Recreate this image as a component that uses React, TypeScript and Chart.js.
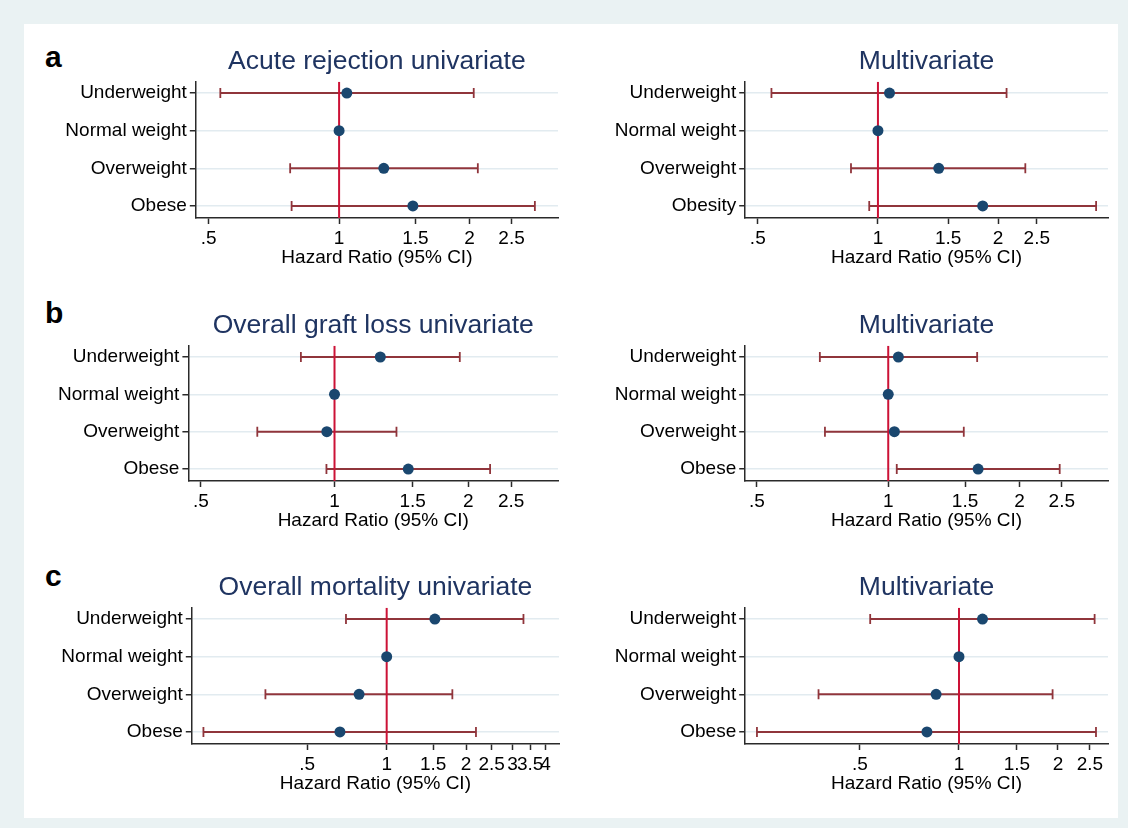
import React, { useEffect, useRef } from "react";
import { Chart, registerables } from "chart.js";

Chart.register(...registerables);

// ---------- data ----------
const categories = ["Underweight", "Normal weight", "Overweight", "Obese"];
const categoriesObesity = ["Underweight", "Normal weight", "Overweight", "Obesity"];

const acuteUniHR = [1.042, 1, 1.268, 1.48];
const acuteUniLow = [0.532, null, 0.771, 0.777];
const acuteUniHigh = [2.045, null, 2.09, 2.83];

const acuteMultiHR = [1.069, 1, 1.42, 1.83];
const acuteMultiLow = [0.541, null, 0.856, 0.951];
const acuteMultiHigh = [2.1, null, 2.34, 3.52];

const graftUniHR = [1.268, 1, 0.961, 1.466];
const graftUniLow = [0.84, null, 0.67, 0.959];
const graftUniHigh = [1.915, null, 1.379, 2.241];

const graftMultiHR = [1.055, 1, 1.033, 1.607];
const graftMultiLow = [0.697, null, 0.716, 1.046];
const graftMultiHigh = [1.599, null, 1.49, 2.472];

const mortUniHR = [1.523, 1, 0.786, 0.665];
const mortUniLow = [0.701, null, 0.347, 0.202];
const mortUniHigh = [3.3, null, 1.774, 2.18];

const mortMultiHR = [1.179, 1, 0.852, 0.799];
const mortMultiLow = [0.537, null, 0.374, 0.243];
const mortMultiHigh = [2.585, null, 1.926, 2.61];

const xTicks = [0.5, 1, 1.5, 2, 2.5];
const xTicksWide = [0.5, 1, 1.5, 2, 2.5, 3, 3.5, 4];

const xRangeAcuteUni = [0.467, 3.2];
const xRangeAcuteMulti = [0.465, 3.77];
const xRangeGraftUni = [0.4687, 3.187];
const xRangeGraftMulti = [0.47, 3.19];
const xRangeMortUni = [0.1825, 4.5];
const xRangeMortMulti = [0.2238, 2.839];

const yRange = [0.7, 4.32];
const referenceHR = 1;

const titles = [
  "Acute rejection univariate",
  "Multivariate",
  "Overall graft loss univariate",
  "Multivariate",
  "Overall mortality univariate",
  "Multivariate",
];
const axisTitle = "Hazard Ratio (95% CI)";
const panelLetters = ["a", "b", "c"];

// ---------- styles ----------
const FONT = "'Liberation Sans', Arial, Helvetica, sans-serif";
const OUTER_BG = "#EAF2F3";
const TITLE_COLOR = "#1f3461";
const AXIS_COLOR = "#2a2a2a";
const GRID_COLOR = "#E2EBF0";
const CI_COLOR = "#90353B";
const MARKER_COLOR = "#1A476F";
const REF_COLOR = "#CC1236";

const fmtTick = (v: number) => String(v).replace(/^0\./, ".");

type PanelProps = {
  title: string;
  cats: string[];
  hr: number[];
  low: (number | null)[];
  high: (number | null)[];
  ticks: number[];
  xRange: number[];
  left: number;
  width: number;
  plotLeft: number;
  plotRight: number;
  plotTop: number;
  plotBottom: number;
};

const TITLE_BOX = 40;
const XAXIS_H = 51;

function ForestPanel(p: PanelProps) {
  const ref = useRef<HTMLCanvasElement | null>(null);
  const top = p.plotTop - TITLE_BOX;
  const height = TITLE_BOX + (p.plotBottom - p.plotTop) + XAXIS_H;

  useEffect(() => {
    if (!ref.current) return;
    const ciSets = p.cats
      .map((_, i) => i)
      .filter((i) => p.low[i] != null && p.high[i] != null)
      .map((i) => ({
        type: "scatter" as const,
        data: [
          { x: p.low[i] as number, y: i + 1 },
          { x: p.high[i] as number, y: i + 1 },
        ],
        showLine: true,
        borderColor: CI_COLOR,
        borderWidth: 2,
        pointStyle: "line" as const,
        pointRotation: 90,
        pointRadius: 5,
        pointBorderColor: CI_COLOR,
        pointBorderWidth: 1.8,
        order: 3,
      }));

    const chart = new Chart(ref.current, {
      type: "scatter",
      data: {
        datasets: [
          ...ciSets,
          {
            data: [
              { x: referenceHR, y: yRange[0] },
              { x: referenceHR, y: yRange[1] },
            ],
            showLine: true,
            borderColor: REF_COLOR,
            borderWidth: 2,
            pointRadius: 0,
            order: 2,
          },
          {
            data: p.hr.map((v, i) => ({ x: v, y: i + 1 })),
            pointStyle: "circle",
            pointRadius: 5.5,
            pointBackgroundColor: MARKER_COLOR,
            pointBorderColor: MARKER_COLOR,
            pointBorderWidth: 0,
            order: 1,
          },
        ],
      },
      options: {
        animation: false,
        responsive: false,
        maintainAspectRatio: false,
        events: [],
        layout: { padding: { left: 0, right: p.left + p.width - p.plotRight, top: 0, bottom: 0 } },
        plugins: {
          legend: { display: false },
          tooltip: { enabled: false },
          title: {
            display: true,
            text: p.title,
            fullSize: false,
            color: TITLE_COLOR,
            font: { family: FONT, size: 26.5, weight: "normal", lineHeight: 1.2 },
            padding: { top: 4, bottom: 4 },
          },
        },
        scales: {
          x: {
            type: "logarithmic",
            min: p.xRange[0],
            max: p.xRange[1],
            bounds: "data",
            afterBuildTicks: (s: any) => {
              s.ticks = p.ticks.map((v) => ({ value: v }));
            },
            afterFit: (s: any) => {
              s.height = XAXIS_H;
            },
            ticks: {
              autoSkip: false,
              maxRotation: 0,
              minRotation: 0,
              padding: 3,
              color: "#000",
              font: { family: FONT, size: 19 },
              callback: (v: any) => fmtTick(Number(v)),
            },
            grid: {
              drawOnChartArea: false,
              drawTicks: true,
              tickLength: 6,
              tickColor: AXIS_COLOR,
              tickWidth: 1.5,
            },
            border: { display: true, color: AXIS_COLOR, width: 1.5 },
            title: {
              display: true,
              text: axisTitle,
              color: "#000",
              font: { family: FONT, size: 19 },
              padding: { top: 0, bottom: 0 },
            },
          },
          y: {
            type: "linear",
            reverse: true,
            min: yRange[0],
            max: yRange[1],
            bounds: "data",
            afterBuildTicks: (s: any) => {
              s.ticks = p.cats.map((_, i) => ({ value: i + 1 }));
            },
            afterFit: (s: any) => {
              s.width = p.plotLeft - p.left;
            },
            ticks: {
              autoSkip: false,
              padding: 3,
              color: "#000",
              font: { family: FONT, size: 19 },
              callback: (v: any) => p.cats[Math.round(Number(v)) - 1] ?? "",
            },
            grid: {
              color: GRID_COLOR,
              lineWidth: 1.5,
              drawTicks: true,
              tickLength: 6,
              tickColor: AXIS_COLOR,
              tickWidth: 1.5,
            },
            border: { display: true, color: AXIS_COLOR, width: 1.5 },
          },
        },
      } as any,
    });
    return () => chart.destroy();
  }, []);

  return (
    <canvas
      ref={ref}
      width={p.width}
      height={height}
      style={{ position: "absolute", left: p.left, top, width: p.width, height }}
    />
  );
}

const panels: PanelProps[] = [
  { title: titles[0], cats: categories, hr: acuteUniHR, low: acuteUniLow, high: acuteUniHigh, ticks: xTicks, xRange: xRangeAcuteUni, left: 25, width: 546, plotLeft: 195.8, plotRight: 558, plotTop: 82, plotBottom: 218 },
  { title: titles[1], cats: categoriesObesity, hr: acuteMultiHR, low: acuteMultiLow, high: acuteMultiHigh, ticks: xTicks, xRange: xRangeAcuteMulti, left: 572, width: 546, plotLeft: 745.2, plotRight: 1108, plotTop: 82, plotBottom: 218 },
  { title: titles[2], cats: categories, hr: graftUniHR, low: graftUniLow, high: graftUniHigh, ticks: xTicks, xRange: xRangeGraftUni, left: 25, width: 546, plotLeft: 188.4, plotRight: 558, plotTop: 346, plotBottom: 481 },
  { title: titles[3], cats: categories, hr: graftMultiHR, low: graftMultiLow, high: graftMultiHigh, ticks: xTicks, xRange: xRangeGraftMulti, left: 572, width: 546, plotLeft: 745.2, plotRight: 1108, plotTop: 346, plotBottom: 481 },
  { title: titles[4], cats: categories, hr: mortUniHR, low: mortUniLow, high: mortUniHigh, ticks: xTicksWide, xRange: xRangeMortUni, left: 25, width: 546, plotLeft: 191.8, plotRight: 559, plotTop: 608, plotBottom: 744 },
  { title: titles[5], cats: categories, hr: mortMultiHR, low: mortMultiLow, high: mortMultiHigh, ticks: xTicks, xRange: xRangeMortMulti, left: 572, width: 546, plotLeft: 745.2, plotRight: 1108, plotTop: 608, plotBottom: 744 },
];

const letterTops = [41.6, 297.6, 561];

export default function App() {
  return (
    <div
      style={{
        position: "absolute",
        left: 0,
        top: 0,
        width: 1128,
        height: 828,
        background: OUTER_BG,
        overflow: "hidden",
      }}
    >
      <div style={{ position: "absolute", left: 24, top: 24, width: 1094, height: 794, background: "#fff" }} />
      {panelLetters.map((l, i) => (
        <div
          key={l}
          style={{
            position: "absolute",
            left: 45,
            top: letterTops[i],
            font: `bold 30px ${FONT}`,
            lineHeight: "30px",
            color: "#000",
          }}
        >
          {l}
        </div>
      ))}
      {panels.map((p, i) => (
        <ForestPanel key={i} {...p} />
      ))}
    </div>
  );
}
